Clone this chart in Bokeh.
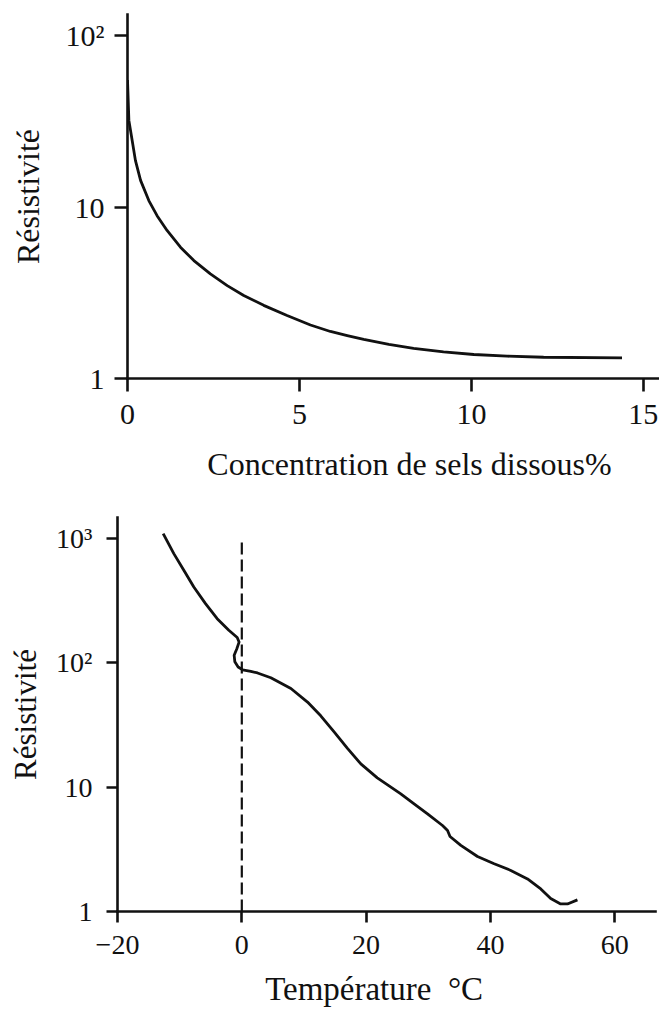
from bokeh.plotting import figure
from bokeh.models import FixedTicker, Spacer
from bokeh.layouts import column, row
from bokeh.embed import file_html
from bokeh.resources import INLINE

# ---- data: top chart (resistivity vs dissolved salts concentration, %) ----
conc = [0.0, 0.04, 0.136, 0.23, 0.38, 0.62, 0.86, 1.15, 1.54, 1.93, 2.41, 2.90,
        3.38, 3.96, 4.64, 5.32, 5.90, 6.39, 6.87, 7.60, 8.32, 9.19, 10.07, 11.04,
        12.1, 14.38]
res_conc = [55, 32, 24.4, 18.7, 14.3, 10.9, 8.9, 7.3, 5.83, 4.87, 4.07, 3.48,
            3.05, 2.67, 2.33, 2.05, 1.88, 1.78, 1.69, 1.58, 1.50, 1.43, 1.38, 1.35,
            1.33, 1.32]

# ---- data: bottom chart (resistivity vs temperature, °C) ----
temp = [-12.65, -10.94, -9.33, -7.72, -5.84, -3.96, -2.09, -0.74, -0.44, -0.8,
        -1.23, -1.12, -0.59, 0.13, 1.45, 2.53, 4.67, 7.9, 10.57, 12.7, 14.85,
        17.0, 19.15, 21.8, 25.58, 27.72, 29.88, 32.29, 33.1, 33.5, 35.24, 37.92,
        40.6, 43.28, 45.97, 48.1, 49.7, 51.3, 52.4, 54.0]
res_temp = [1097, 757, 556, 408, 300, 227, 183, 160, 147, 130,
            115, 102, 92.6, 88, 85.5, 83, 76, 62.2, 48.4, 37.5, 27.9,
            20.5, 15.4, 11.9, 8.85, 7.35, 6.11, 4.92, 4.48, 4.01, 3.40, 2.77,
            2.42, 2.14, 1.83, 1.52, 1.27, 1.15, 1.15, 1.24]
freeze_x = [0, 0]
freeze_y = [1, 1000]

# ---- ticks / labels ----
top_xticks = [0, 5, 10, 15]
top_yticks = [1, 10, 100]
top_ylabels = {1: "1", 10: "10", 100: "10²"}
bot_xticks = [-20, 0, 20, 40, 60]
bot_xlabels = {-20: "−20"}
bot_yticks = [1, 10, 100, 1000]
bot_ylabels = {1: "1", 10: "10", 100: "10²", 1000: "10³"}

ylabel = "Résistivité"
NB = "\u00a0"
# non-breaking spaces nudge the centred axis titles sideways as in the original
xlabel_top = NB * 4 + "Concentration de sels dissous%"
xlabel_bot = "Température" + NB + " °C" + NB * 3

FONT = "Liberation Serif"
INK = "#111111"


def style(p, xt, yt, xlabels, ylabels, tick_len, tick_fs, lab_fs,
          xstand, ystand, ylab_stand, xlab, xlab_fs, xlab_stand):
    p.xgrid.visible = False
    p.ygrid.visible = False
    p.outline_line_color = None
    p.background_fill_color = "white"
    p.border_fill_color = "white"
    p.xaxis.ticker = FixedTicker(ticks=xt, minor_ticks=[])
    p.yaxis.ticker = FixedTicker(ticks=yt, minor_ticks=[])
    p.xaxis.major_label_overrides = xlabels
    p.yaxis.major_label_overrides = ylabels
    for ax in (p.xaxis, p.yaxis):
        ax.axis_line_color = INK
        ax.axis_line_width = 2.6
        ax.axis_line_cap = "square"
        ax.major_tick_line_color = INK
        ax.major_tick_line_width = 2.6
        ax.major_tick_in = 0
        ax.major_tick_out = tick_len
        ax.minor_tick_in = 0
        ax.minor_tick_out = 0
        ax.major_label_text_font = FONT
        ax.major_label_text_font_size = f"{tick_fs}px"
        ax.major_label_text_color = INK
        ax.axis_label_text_font = FONT
        ax.axis_label_text_font_style = "normal"
        ax.axis_label_text_color = INK
    p.xaxis.major_label_standoff = xstand
    p.yaxis.major_label_standoff = ystand
    p.yaxis.axis_label = ylabel
    p.yaxis.axis_label_text_font_size = f"{lab_fs}px"
    p.yaxis.axis_label_standoff = ylab_stand
    p.xaxis.axis_label = xlab
    p.xaxis.axis_label_text_font_size = f"{xlab_fs}px"
    p.xaxis.axis_label_standoff = xlab_stand


# ---- top figure (shifted right by a spacer) ----
p1 = figure(width=655, height=505, title=None, toolbar_location=None,
            output_backend="svg", y_axis_type="log",
            x_range=(0, 15.47), y_range=(1, 132.6),
            min_border_left=123, min_border_right=0,
            min_border_top=14, min_border_bottom=127)
style(p1, top_xticks, top_yticks, {}, top_ylabels, 13, 30, 32, 13, 10, 17,
      xlabel_top, 32, 19)
p1.line(conc, res_conc, line_width=2.8, line_color=INK, line_join="round")

# ---- bottom figure ----
p2 = figure(width=659, height=505, title=None, toolbar_location=None,
            output_backend="svg", y_axis_type="log",
            x_range=(-20, 66.56), y_range=(1, 1478),
            min_border_left=117, min_border_right=4,
            min_border_top=12, min_border_bottom=99)
style(p2, bot_xticks, bot_yticks, bot_xlabels, bot_ylabels, 11, 28, 31, 13, 14, 10,
      xlabel_bot, 33, 14)
p2.line(freeze_x, freeze_y, line_width=2.2, line_color=INK, line_dash="12 5")
p2.line(temp, res_temp, line_width=2.8, line_color=INK, line_join="round")

layout = column(row(Spacer(width=4, height=505), p1, spacing=0), p2, spacing=0)
open("out.html", "w").write(file_html(layout, INLINE))
